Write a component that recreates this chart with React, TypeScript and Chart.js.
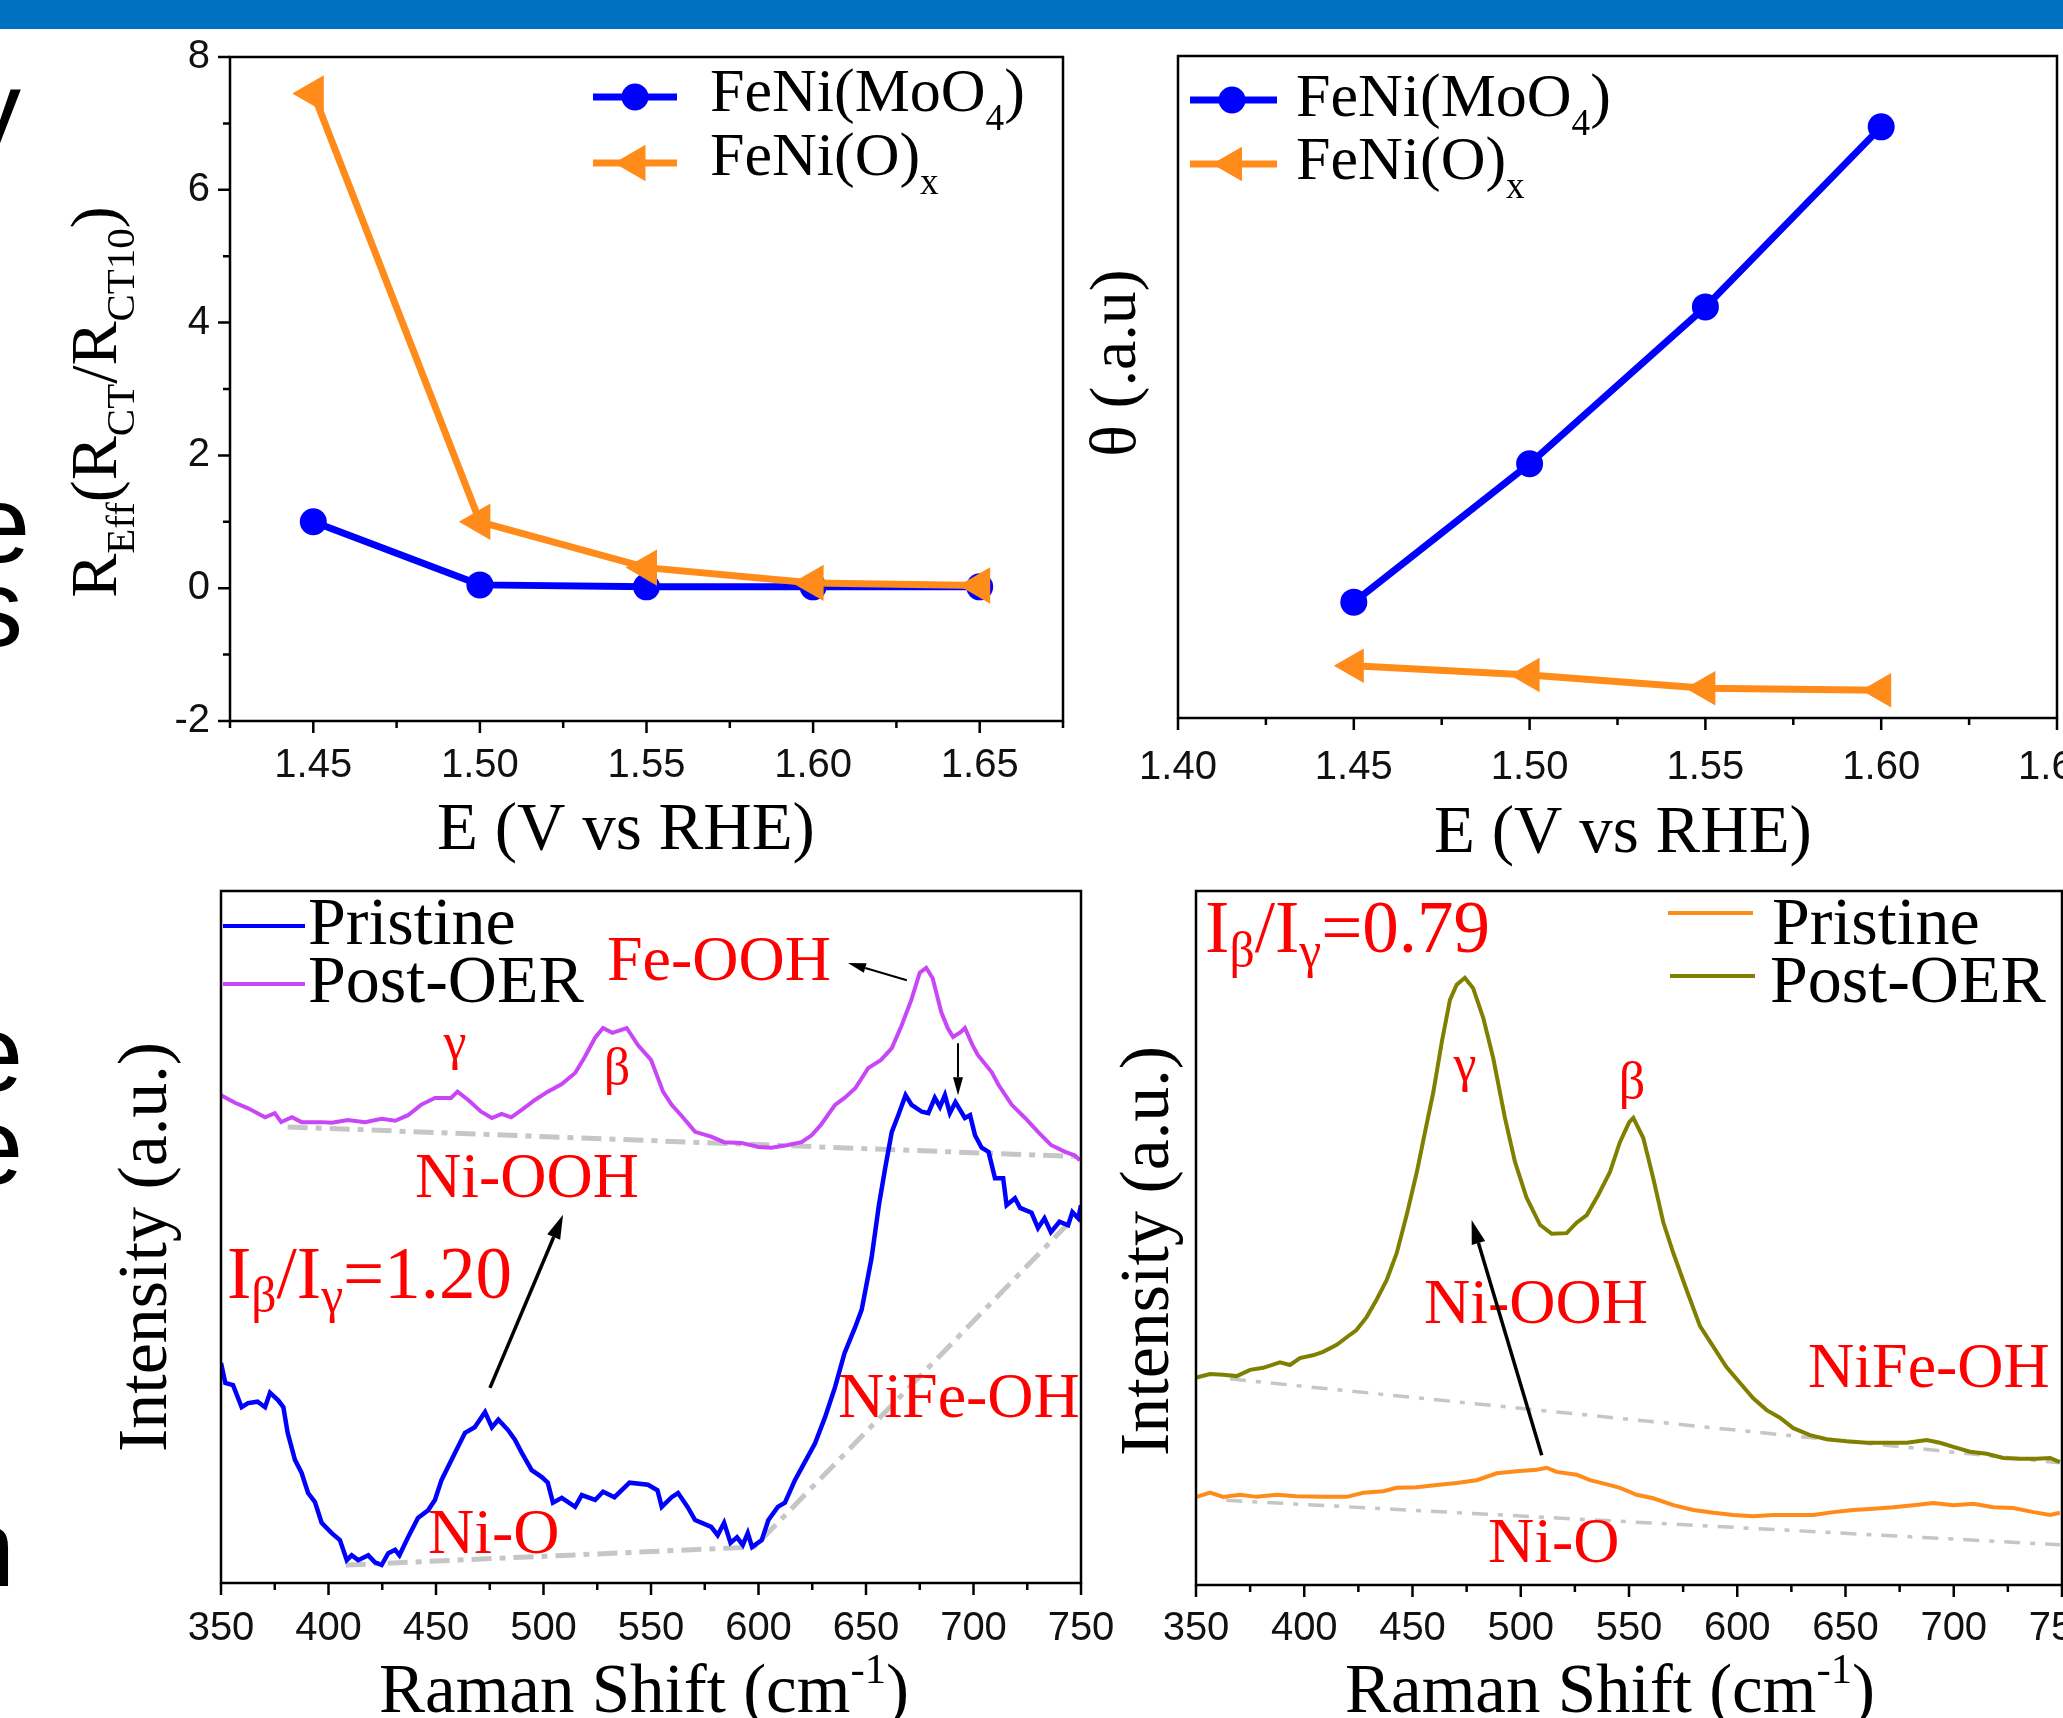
import React, { useEffect, useRef } from 'react';
import { Chart, registerables } from 'chart.js';

Chart.register(...registerables);

const SERIF = '"Liberation Serif", "Times New Roman", Times, serif';
const SANS = '"Liberation Sans", Arial, Helvetica, sans-serif';
const BLUE = '#0000FF';
const ORANGE = '#FF8C1A';
const PURPLE = '#C846F5';
const OLIVE = '#808000';
const RED = '#FF0000';
const GRAY = '#C6C6C6';

// ---------- Panel A : R_Eff vs E ----------
const potentialsA = [1.45, 1.5, 1.55, 1.6, 1.65];
const reffMoO4 = [1.0, 0.05, 0.02, 0.02, 0.02];
const reffOx = [7.45, 1.0, 0.31, 0.08, 0.04];
const xTicksA = [1.45, 1.5, 1.55, 1.6, 1.65];
const xMinorA = [1.425, 1.475, 1.525, 1.575, 1.625, 1.675];
const yTicksA = [-2, 0, 2, 4, 6, 8];
const yMinorA = [-1, 1, 3, 5, 7];

// ---------- Panel B : theta vs E ----------
const potentialsB = [1.45, 1.5, 1.55, 1.6];
const thetaMoO4 = [1.75, 3.84, 6.21, 8.93];
const thetaOx = [0.79, 0.65, 0.45, 0.42];
const xTicksB = [1.4, 1.45, 1.5, 1.55, 1.6, 1.65];
const xMinorB = [1.425, 1.475, 1.525, 1.575, 1.625];

// ---------- Panel C : Raman FeNi(MoO4) ----------
const shiftC_post = [350, 356.5, 362.6, 370.5, 375, 378, 383, 387.5, 397, 401.5, 409, 417, 424.7, 431, 437, 443, 449.5, 454, 457, 460, 465, 471, 476, 480.5, 485, 490, 496, 502, 508.5, 514.7, 519, 524, 527.7, 532, 538.7, 544, 550, 555.6, 559.6, 564, 570.5, 578, 584, 592, 600, 606, 613.8, 620, 624.7, 629, 635.6, 640, 645, 651, 657, 662, 666.6, 671, 675, 678, 681, 685, 688, 690.5, 694, 696, 699.6, 702, 708.5, 711.6, 717.8, 724, 730, 736, 742.6, 747, 749.5];
const intC_post = [70.5, 69.4, 68.6, 67.3, 67.9, 66.6, 67.3, 66.6, 66.6, 66.5, 66.9, 66.6, 67.1, 66.8, 67.6, 69.1, 70.1, 70.1, 70.1, 71.0, 69.8, 68.1, 67.2, 67.8, 67.3, 68.4, 69.8, 71.0, 72.1, 73.7, 75.9, 78.8, 80.2, 79.5, 80.2, 77.7, 75.6, 71.0, 69.1, 67.6, 65.2, 64.5, 63.7, 63.6, 63.0, 62.9, 63.3, 63.7, 64.7, 66.2, 69.1, 70.1, 71.5, 74.4, 75.6, 77.3, 80.6, 84.2, 88.2, 88.9, 87.4, 82.5, 80.2, 78.9, 79.6, 80.2, 77.7, 76.3, 73.8, 72.0, 69.1, 67.2, 65.2, 63.3, 62.3, 61.8, 61.1];
const shiftC_pri = [350, 352, 355.6, 359.6, 362.6, 367, 370.5, 372.8, 376.6, 379, 381, 384.4, 387.5, 390.5, 393.7, 396.8, 401.5, 405.3, 408.5, 410.8, 413.8, 418.5, 421.6, 424.7, 427.8, 431, 433, 437, 441.6, 446.3, 449.5, 452.6, 458.8, 463.5, 468, 472.8, 476, 479, 483.5, 486.7, 489.9, 494.5, 499.2, 502, 504.4, 508.5, 514.7, 517.8, 524, 527.7, 533, 540, 548.6, 553, 555, 559.6, 562.6, 567, 570.5, 578, 581, 584, 587, 590, 592.7, 595, 597, 601.5, 604.6, 609, 612.3, 617, 621.6, 626.3, 631, 635.6, 640, 645, 648, 652.6, 656, 659, 662, 665, 668.4, 671.2, 676, 679, 682, 684.4, 686.7, 689, 691.6, 696, 698.4, 700.7, 703.8, 707, 710, 713.8, 715.4, 719.3, 721.7, 727, 730, 733, 736, 740, 744, 746, 748.7, 750];
const intC_pri = [31.8, 28.9, 28.6, 25.4, 26.0, 26.2, 25.4, 27.5, 26.4, 25.4, 21.7, 17.8, 15.9, 13.0, 11.7, 8.7, 7.2, 6.2, 3.3, 4.0, 3.3, 4.0, 3.0, 2.6, 4.3, 4.8, 4.0, 6.6, 9.4, 10.5, 12.0, 14.9, 18.8, 21.7, 22.5, 24.7, 22.5, 23.6, 22.1, 20.7, 18.8, 16.3, 15.3, 14.5, 11.6, 12.3, 11.0, 12.7, 12.0, 13.2, 12.4, 14.5, 14.2, 13.4, 11.0, 12.4, 13.0, 11.0, 9.1, 8.1, 6.9, 8.7, 5.8, 6.6, 5.5, 7.2, 5.2, 6.2, 9.1, 11.0, 11.6, 14.9, 17.5, 20.2, 24.0, 28.3, 33.2, 37.0, 39.5, 47.0, 54.6, 60.1, 65.2, 67.6, 70.5, 69.1, 68.1, 67.9, 70.1, 68.8, 70.5, 67.9, 69.5, 67.2, 67.6, 64.7, 62.9, 62.3, 58.5, 58.5, 54.6, 55.6, 54.2, 53.5, 51.3, 52.7, 50.7, 52.2, 51.7, 53.6, 52.7, 54.6];
const baseC_postX = [381, 750];
const baseC_postY = [65.9, 61.6];
const baseC_priX = [408, 598, 748];
const baseC_priY = [2.6, 5.2, 53.2];

// ---------- Panel D : Raman FeNi(O)x ----------
const shiftD_post = [350.3, 356.5, 362.5, 368.8, 375, 381, 388.8, 393.4, 398, 404, 408.7, 415, 419.6, 424, 428.8, 433.4, 438, 442.7, 447.3, 452, 455.8, 459.6, 463.5, 467.3, 470.4, 474.2, 478, 482.7, 487.3, 492.7, 497.3, 502.7, 508.9, 514.3, 521.2, 525.8, 530.5, 535.8, 541.2, 545.8, 550.1, 552, 556.6, 561.2, 565.8, 570.5, 576.6, 582.8, 589, 595, 601.3, 607.4, 613.6, 619.7, 625.9, 633.6, 641.3, 650.5, 659.8, 669, 678.3, 687.5, 693.6, 699.8, 707.5, 715.2, 722.9, 730.6, 738.3, 744.5, 749];
const intD_post = [29.9, 30.4, 30.3, 30.1, 31.0, 31.3, 32.1, 31.7, 32.7, 33.1, 33.6, 34.6, 35.7, 36.7, 38.6, 41.1, 43.9, 47.8, 53.3, 59.5, 65.3, 71.0, 78.2, 84.3, 86.5, 87.5, 86.0, 81.7, 75.9, 67.3, 61.0, 55.8, 51.9, 50.6, 50.7, 52.2, 53.3, 56.2, 59.5, 63.8, 66.7, 67.3, 64.4, 58.6, 52.3, 47.8, 42.5, 37.3, 34.3, 31.4, 29.1, 26.9, 25.2, 24.1, 22.6, 21.6, 21.0, 20.7, 20.5, 20.5, 20.5, 20.9, 20.5, 19.9, 19.2, 18.9, 18.3, 18.2, 18.2, 18.3, 17.7];
const shiftD_pri = [350.3, 356.5, 362.6, 370.3, 378, 387.3, 396.5, 408.8, 419.6, 427.3, 436.5, 442.7, 452, 461.2, 470.4, 479.6, 488.9, 498.1, 507.4, 512, 516.6, 525.8, 532, 541.2, 545.8, 550.5, 553.5, 561.2, 570.5, 579.7, 589, 598.2, 607.4, 616.7, 625.9, 635.1, 644.4, 653.6, 662.9, 672.1, 681.4, 690.6, 699.8, 709.1, 718.3, 727.5, 736.8, 744.5, 749];
const intD_pri = [12.7, 13.3, 12.7, 13.0, 12.7, 13.0, 12.8, 12.7, 12.7, 13.3, 13.5, 14.0, 14.1, 14.4, 14.7, 15.1, 16.1, 16.4, 16.6, 16.9, 16.3, 15.9, 15.1, 14.4, 14.0, 13.4, 13.0, 12.5, 11.5, 10.8, 10.4, 10.1, 9.9, 10.1, 10.1, 10.1, 10.5, 10.8, 11.0, 11.2, 11.5, 11.8, 11.5, 11.7, 11.2, 11.1, 10.5, 10.1, 10.4];
const baseD_postX = [365.7, 749];
const baseD_postY = [29.7, 17.6];
const baseD_priX = [364, 749];
const baseD_priY = [12.2, 5.8];

const xTicksCD = [350, 400, 450, 500, 550, 600, 650, 700, 750];
const xMinorCD = [375, 425, 475, 525, 575, 625, 675, 725];

// ---------- layout ----------
type Box = { left: number; top: number; width: number; height: number };
type Area = { left: number; top: number; right: number; bottom: number };
const CANVAS_A: Box = { left: 0, top: 10, width: 1110, height: 860 };
const AREA_A: Area = { left: 230, top: 57, right: 1063, bottom: 721 };
const CANVAS_B: Box = { left: 1070, top: 30, width: 1060, height: 840 };
const AREA_B: Area = { left: 1178, top: 56, right: 2057, bottom: 718 };
const CANVAS_C: Box = { left: 0, top: 870, width: 1145, height: 848 };
const AREA_C: Area = { left: 221, top: 891, right: 1081, bottom: 1583 };
const CANVAS_D: Box = { left: 1090, top: 870, width: 1035, height: 848 };
const AREA_D: Area = { left: 1196, top: 891, right: 2062, bottom: 1585 };

type Seg = { t: string; s?: 'sub' | 'sup' };

function drawRich(
  ctx: CanvasRenderingContext2D, segs: Seg[], x: number, y: number, size: number, color: string,
  align: 'left' | 'center' | 'right' = 'left', subScale = 0.62, subDy = 0.28, supDy = -0.42, family = SERIF
) {
  ctx.save();
  ctx.fillStyle = color;
  ctx.textBaseline = 'alphabetic';
  ctx.textAlign = 'left';
  let w = 0;
  for (const g of segs) {
    ctx.font = `${g.s ? size * subScale : size}px ${family}`;
    w += ctx.measureText(g.t).width;
  }
  let cx = align === 'center' ? x - w / 2 : align === 'right' ? x - w : x;
  for (const g of segs) {
    ctx.font = `${g.s ? size * subScale : size}px ${family}`;
    const dy = g.s === 'sub' ? subDy * size : g.s === 'sup' ? supDy * size : 0;
    ctx.fillText(g.t, cx, y + dy);
    cx += ctx.measureText(g.t).width;
  }
  ctx.restore();
}

function drawRotated(ctx: CanvasRenderingContext2D, segs: Seg[], bx: number, cy: number, size: number, subDy = 0.28) {
  ctx.save();
  ctx.translate(bx, cy);
  ctx.rotate(-Math.PI / 2);
  drawRich(ctx, segs, 0, 0, size, '#000', 'center', 0.62, subDy);
  ctx.restore();
}

function arrow(ctx: CanvasRenderingContext2D, x1: number, y1: number, x2: number, y2: number, lw: number, hl: number, hw: number) {
  const a = Math.atan2(y2 - y1, x2 - x1);
  const bx = x2 - hl * Math.cos(a);
  const by = y2 - hl * Math.sin(a);
  ctx.save();
  ctx.strokeStyle = '#000';
  ctx.fillStyle = '#000';
  ctx.lineWidth = lw;
  ctx.beginPath();
  ctx.moveTo(x1, y1);
  ctx.lineTo(bx, by);
  ctx.stroke();
  ctx.beginPath();
  ctx.moveTo(x2, y2);
  ctx.lineTo(bx + (hw / 2) * Math.sin(a), by - (hw / 2) * Math.cos(a));
  ctx.lineTo(bx - (hw / 2) * Math.sin(a), by + (hw / 2) * Math.cos(a));
  ctx.closePath();
  ctx.fill();
  ctx.restore();
}

function drawFrame(chart: any, xMajor: number[], xMinor: number[], yMajor: number[], yMinor: number[]) {
  const { ctx, chartArea: a, scales } = chart;
  ctx.save();
  ctx.strokeStyle = '#000';
  ctx.lineWidth = 2.5;
  ctx.strokeRect(a.left, a.top, a.right - a.left, a.bottom - a.top);
  ctx.beginPath();
  for (const v of xMajor) { const p = scales.x.getPixelForValue(v); ctx.moveTo(p, a.bottom); ctx.lineTo(p, a.bottom + 12); }
  for (const v of xMinor) { const p = scales.x.getPixelForValue(v); ctx.moveTo(p, a.bottom); ctx.lineTo(p, a.bottom + 7); }
  for (const v of yMajor) { const p = scales.y.getPixelForValue(v); ctx.moveTo(a.left, p); ctx.lineTo(a.left - 12, p); }
  for (const v of yMinor) { const p = scales.y.getPixelForValue(v); ctx.moveTo(a.left, p); ctx.lineTo(a.left - 7, p); }
  ctx.stroke();
  ctx.restore();
}

function circleMarker(ctx: CanvasRenderingContext2D, x: number, y: number, r: number, color: string) {
  ctx.save(); ctx.fillStyle = color; ctx.beginPath(); ctx.arc(x, y, r, 0, Math.PI * 2); ctx.fill(); ctx.restore();
}
function triLeftMarker(ctx: CanvasRenderingContext2D, x: number, y: number, r: number, color: string) {
  ctx.save(); ctx.fillStyle = color; ctx.beginPath();
  ctx.moveTo(x - r, y);
  ctx.lineTo(x + r / 2, y - (Math.sqrt(3) / 2) * r);
  ctx.lineTo(x + r / 2, y + (Math.sqrt(3) / 2) * r);
  ctx.closePath(); ctx.fill(); ctx.restore();
}
function legendLine(ctx: CanvasRenderingContext2D, x1: number, x2: number, y: number, color: string, lw: number) {
  ctx.save(); ctx.strokeStyle = color; ctx.lineWidth = lw; ctx.beginPath(); ctx.moveTo(x1, y); ctx.lineTo(x2, y); ctx.stroke(); ctx.restore();
}

const pts = (xs: number[], ys: number[]) => xs.map((x, i) => ({ x, y: ys[i] }));

function baseOptions(canvas: Box, area: Area, x: any, y: any) {
  const tickFont = { family: SANS, size: 40, lineHeight: 1.2 };
  return {
    animation: false,
    responsive: false,
    maintainAspectRatio: false,
    devicePixelRatio: 1,
    events: [],
    layout: {
      autoPadding: false,
      padding: { left: 0, top: area.top - canvas.top, right: canvas.left + canvas.width - area.right, bottom: 0 },
    },
    plugins: { legend: { display: false }, tooltip: { enabled: false }, title: { display: false } },
    scales: {
      x: {
        type: 'linear', position: 'bottom', min: x.min, max: x.max,
        afterBuildTicks: (s: any) => { s.ticks = x.ticks.map((v: number) => ({ value: v })); },
        afterFit: (s: any) => { s.height = canvas.top + canvas.height - area.bottom; },
        grid: { display: false, drawTicks: false, tickLength: 0 },
        border: { display: false },
        ticks: { padding: x.pad, autoSkip: false, maxRotation: 0, minRotation: 0, color: '#111', font: tickFont, callback: x.fmt },
      },
      y: {
        type: 'linear', position: 'left', min: y.min, max: y.max,
        afterBuildTicks: (s: any) => { s.ticks = y.ticks.map((v: number) => ({ value: v })); },
        afterFit: (s: any) => { s.width = area.left - canvas.left; },
        grid: { display: false, drawTicks: false, tickLength: 0 },
        border: { display: false },
        ticks: { display: y.show, padding: y.pad, color: '#111', font: tickFont, callback: y.fmt },
      },
    },
  };
}

const fmt2 = (v: any) => Number(v).toFixed(2);
const fmt0 = (v: any) => String(Math.round(Number(v)));

const legendMoO4: Seg[] = [{ t: 'FeNi(MoO' }, { t: '4', s: 'sub' }, { t: ')' }];
const legendOx: Seg[] = [{ t: 'FeNi(O)' }, { t: 'x', s: 'sub' }];
const eTitle: Seg[] = [{ t: 'E (V vs RHE)' }];
const ramanTitle: Seg[] = [{ t: 'Raman Shift (cm' }, { t: '-1', s: 'sup' }, { t: ')' }];
const intensityTitle: Seg[] = [{ t: 'Intensity (a.u.)' }];

function buildA() {
  const plugin = {
    id: 'decorA',
    afterDraw(chart: any) {
      const ctx = chart.ctx as CanvasRenderingContext2D;
      drawFrame(chart, xTicksA, xMinorA, yTicksA, yMinorA);
      ctx.save();
      ctx.translate(-CANVAS_A.left, -CANVAS_A.top);
      legendLine(ctx, 593, 677, 97, BLUE, 7);
      circleMarker(ctx, 635, 97, 13.5, BLUE);
      drawRich(ctx, legendMoO4, 710, 111, 62, '#000', 'left', 0.6, 0.3);
      legendLine(ctx, 593, 677, 163, ORANGE, 7);
      triLeftMarker(ctx, 635, 163, 21, ORANGE);
      drawRich(ctx, legendOx, 710, 175, 62, '#000', 'left', 0.6, 0.3);
      drawRich(ctx, eTitle, 626, 849, 67, '#000', 'center');
      drawRotated(ctx, [{ t: 'R' }, { t: 'Eff', s: 'sub' }, { t: '(R' }, { t: 'CT', s: 'sub' }, { t: '/R' }, { t: 'CT10', s: 'sub' }, { t: ')' }], 116, 402, 66);
      ctx.restore();
    },
  };
  return {
    type: 'scatter',
    data: {
      datasets: [
        { data: pts(potentialsA, reffOx), showLine: true, borderColor: ORANGE, backgroundColor: ORANGE, borderWidth: 7, pointStyle: 'triangle', pointRotation: -90, pointRadius: 21, pointBorderWidth: 0, pointBackgroundColor: ORANGE },
        { data: pts(potentialsA, reffMoO4), showLine: true, borderColor: BLUE, backgroundColor: BLUE, borderWidth: 7, pointStyle: 'circle', pointRadius: 13.5, pointBorderWidth: 0, pointBackgroundColor: BLUE },
      ],
    },
    options: baseOptions(CANVAS_A, AREA_A,
      { min: 1.425, max: 1.675, ticks: xTicksA, pad: 21, fmt: fmt2 },
      { min: -2, max: 8, ticks: yTicksA, pad: 20, show: true, fmt: fmt0 }),
    plugins: [plugin],
  };
}

function buildB() {
  const plugin = {
    id: 'decorB',
    afterDraw(chart: any) {
      const ctx = chart.ctx as CanvasRenderingContext2D;
      drawFrame(chart, xTicksB, xMinorB, [], []);
      ctx.save();
      ctx.translate(-CANVAS_B.left, -CANVAS_B.top);
      legendLine(ctx, 1190, 1277, 100, BLUE, 7);
      circleMarker(ctx, 1232, 100, 13.5, BLUE);
      drawRich(ctx, legendMoO4, 1296, 116, 62, '#000', 'left', 0.6, 0.3);
      legendLine(ctx, 1190, 1277, 164, ORANGE, 7);
      triLeftMarker(ctx, 1232, 164, 20, ORANGE);
      drawRich(ctx, legendOx, 1296, 179, 62, '#000', 'left', 0.6, 0.3);
      drawRich(ctx, eTitle, 1623, 852, 67, '#000', 'center');
      drawRotated(ctx, [{ t: 'θ (.a.u)' }], 1135, 363, 66);
      ctx.restore();
    },
  };
  return {
    type: 'scatter',
    data: {
      datasets: [
        { data: pts(potentialsB, thetaMoO4), showLine: true, borderColor: BLUE, backgroundColor: BLUE, borderWidth: 7, pointStyle: 'circle', pointRadius: 13.5, pointBorderWidth: 0, pointBackgroundColor: BLUE },
        { data: pts(potentialsB, thetaOx), showLine: true, borderColor: ORANGE, backgroundColor: ORANGE, borderWidth: 7, pointStyle: 'triangle', pointRotation: -90, pointRadius: 20, pointBorderWidth: 0, pointBackgroundColor: ORANGE },
      ],
    },
    options: baseOptions(CANVAS_B, AREA_B,
      { min: 1.4, max: 1.65, ticks: xTicksB, pad: 26, fmt: fmt2 },
      { min: 0, max: 10, ticks: [], pad: 0, show: false, fmt: fmt0 }),
    plugins: [plugin],
  };
}

function spectrum(xs: number[], ys: number[], color: string, lw: number) {
  return { data: pts(xs, ys), showLine: true, borderColor: color, backgroundColor: color, borderWidth: lw, pointRadius: 0, tension: 0 };
}
function baseline(xs: number[], ys: number[], lw: number, dash: number[]) {
  return { data: pts(xs, ys), showLine: true, borderColor: GRAY, backgroundColor: GRAY, borderWidth: lw, borderDash: dash, pointRadius: 0, tension: 0 };
}

function buildC() {
  const plugin = {
    id: 'decorC',
    afterDraw(chart: any) {
      const ctx = chart.ctx as CanvasRenderingContext2D;
      const X = (v: number) => chart.scales.x.getPixelForValue(v);
      const Y = (v: number) => chart.scales.y.getPixelForValue(v);
      drawFrame(chart, xTicksCD, xMinorCD, [], []);
      drawRich(ctx, [{ t: 'Fe-OOH' }], X(529.5), Y(87.1), 64, RED);
      arrow(ctx, X(669), Y(87.1), X(641.6), Y(89.6), 2, 18, 10);
      arrow(ctx, X(692.8), Y(78.0), X(692.8), Y(70.5), 2, 18, 10);
      drawRich(ctx, [{ t: 'γ' }], X(458.8), Y(75.7), 52, RED, 'center');
      drawRich(ctx, [{ t: 'β' }], X(534.2), Y(72.1), 52, RED, 'center');
      drawRich(ctx, [{ t: 'Ni-OOH' }], X(440.2), Y(55.8), 64, RED);
      arrow(ctx, X(475.1), Y(28.2), X(509.1), Y(53.2), 3.5, 24, 14);
      drawRich(ctx, [{ t: 'I' }, { t: 'β', s: 'sub' }, { t: '/I' }, { t: 'γ', s: 'sub' }, { t: '=1.20' }], X(352.8), Y(41.2), 73, RED, 'left', 0.68, 0.2);
      drawRich(ctx, [{ t: 'Ni-O' }], X(446.3), Y(4.3), 64, RED);
      drawRich(ctx, [{ t: 'NiFe-OH' }], X(637), Y(24.0), 64, RED);
      ctx.save();
      ctx.translate(-CANVAS_C.left, -CANVAS_C.top);
      legendLine(ctx, 223, 305, 926, BLUE, 4);
      drawRich(ctx, [{ t: 'Pristine' }], 308, 944, 68, '#000');
      legendLine(ctx, 223, 305, 984, PURPLE, 4);
      drawRich(ctx, [{ t: 'Post-OER' }], 308, 1002, 68, '#000');
      drawRich(ctx, ramanTitle, 644, 1712, 69, '#000', 'center');
      drawRotated(ctx, intensityTitle, 166, 1247, 70);
      ctx.restore();
    },
  };
  return {
    type: 'scatter',
    data: {
      datasets: [
        spectrum(shiftC_post, intC_post, PURPLE, 4),
        spectrum(shiftC_pri, intC_pri, BLUE, 4.5),
        baseline(baseC_postX, baseC_postY, 5, [20, 8, 6, 8]),
        baseline(baseC_priX, baseC_priY, 5, [20, 8, 6, 8]),
      ],
    },
    options: baseOptions(CANVAS_C, AREA_C,
      { min: 350, max: 750, ticks: xTicksCD, pad: 22, fmt: fmt0 },
      { min: 0, max: 100, ticks: [], pad: 0, show: false, fmt: fmt0 }),
    plugins: [plugin],
  };
}

function buildD() {
  const plugin = {
    id: 'decorD',
    afterDraw(chart: any) {
      const ctx = chart.ctx as CanvasRenderingContext2D;
      const X = (v: number) => chart.scales.x.getPixelForValue(v);
      const Y = (v: number) => chart.scales.y.getPixelForValue(v);
      drawFrame(chart, xTicksCD, xMinorCD, [], []);
      drawRich(ctx, [{ t: 'I' }, { t: 'β', s: 'sub' }, { t: '/I' }, { t: 'γ', s: 'sub' }, { t: '=0.79' }], X(354.2), Y(91.2), 73, RED, 'left', 0.68, 0.2);
      drawRich(ctx, [{ t: 'γ' }], X(474.2), Y(72.6), 52, RED, 'center');
      drawRich(ctx, [{ t: 'β' }], X(551.4), Y(70.2), 52, RED, 'center');
      drawRich(ctx, [{ t: 'Ni-OOH' }], X(455.3), Y(37.8), 64, RED);
      arrow(ctx, X(509.7), Y(18.7), X(477.3), Y(52.6), 3.5, 24, 14);
      drawRich(ctx, [{ t: 'Ni-O' }], X(484.9), Y(3.3), 64, RED);
      drawRich(ctx, [{ t: 'NiFe-OH' }], X(632.7), Y(28.5), 64, RED);
      ctx.save();
      ctx.translate(-CANVAS_D.left, -CANVAS_D.top);
      legendLine(ctx, 1668, 1753, 913, ORANGE, 4);
      drawRich(ctx, [{ t: 'Pristine' }], 1772, 944, 68, '#000');
      legendLine(ctx, 1670, 1755, 976, OLIVE, 4);
      drawRich(ctx, [{ t: 'Post-OER' }], 1770, 1002, 68, '#000');
      drawRich(ctx, ramanTitle, 1610, 1712, 69, '#000', 'center');
      drawRotated(ctx, intensityTitle, 1168, 1251, 70);
      ctx.restore();
    },
  };
  return {
    type: 'scatter',
    data: {
      datasets: [
        spectrum(shiftD_post, intD_post, OLIVE, 4),
        spectrum(shiftD_pri, intD_pri, ORANGE, 4),
        baseline(baseD_postX, baseD_postY, 3.5, [16, 10, 5, 10]),
        baseline(baseD_priX, baseD_priY, 3.5, [16, 10, 5, 10]),
      ],
    },
    options: baseOptions(CANVAS_D, AREA_D,
      { min: 350, max: 750, ticks: xTicksCD, pad: 20, fmt: fmt0 },
      { min: 0, max: 100, ticks: [], pad: 0, show: false, fmt: fmt0 }),
    plugins: [plugin],
  };
}

function ChartCanvas({ box, build }: { box: Box; build: () => any }) {
  const ref = useRef<HTMLCanvasElement>(null);
  useEffect(() => {
    const chart = new Chart(ref.current as HTMLCanvasElement, build() as any);
    return () => chart.destroy();
  }, []);
  return (
    <canvas
      ref={ref}
      width={box.width}
      height={box.height}
      style={{ position: 'absolute', left: box.left, top: box.top, width: box.width, height: box.height }}
    />
  );
}

// cropped slide letters along the left edge
const EDGE_LETTERS = [
  { ch: 'y', left: -34, base: 151 },
  { ch: 'e', left: -31, base: 566 },
  { ch: 's', left: -32, base: 650 },
  { ch: 'e', left: -38, base: 1095 },
  { ch: 'e', left: -38, base: 1188 },
  { ch: 'n', left: -46, base: 1590 },
];

export default function App() {
  useEffect(() => {
    document.documentElement.style.overflow = 'hidden';
    document.body.style.overflow = 'hidden';
  }, []);
  return (
    <div style={{ position: 'absolute', left: 0, top: 0, width: 2063, height: 1718, overflow: 'hidden', background: '#fff' }}>
      <ChartCanvas box={CANVAS_A} build={buildA} />
      <ChartCanvas box={CANVAS_B} build={buildB} />
      <ChartCanvas box={CANVAS_C} build={buildC} />
      <ChartCanvas box={CANVAS_D} build={buildD} />
      <div style={{ position: 'absolute', left: 0, top: 0, width: 2063, height: 29, background: '#0070C0' }} />
      {EDGE_LETTERS.map((l, i) => (
        <span
          key={i}
          style={{ position: 'absolute', left: l.left, top: l.base - 97, fontFamily: SANS, fontSize: 110, lineHeight: '110px', color: '#000' }}
        >
          {l.ch}
        </span>
      ))}
    </div>
  );
}
